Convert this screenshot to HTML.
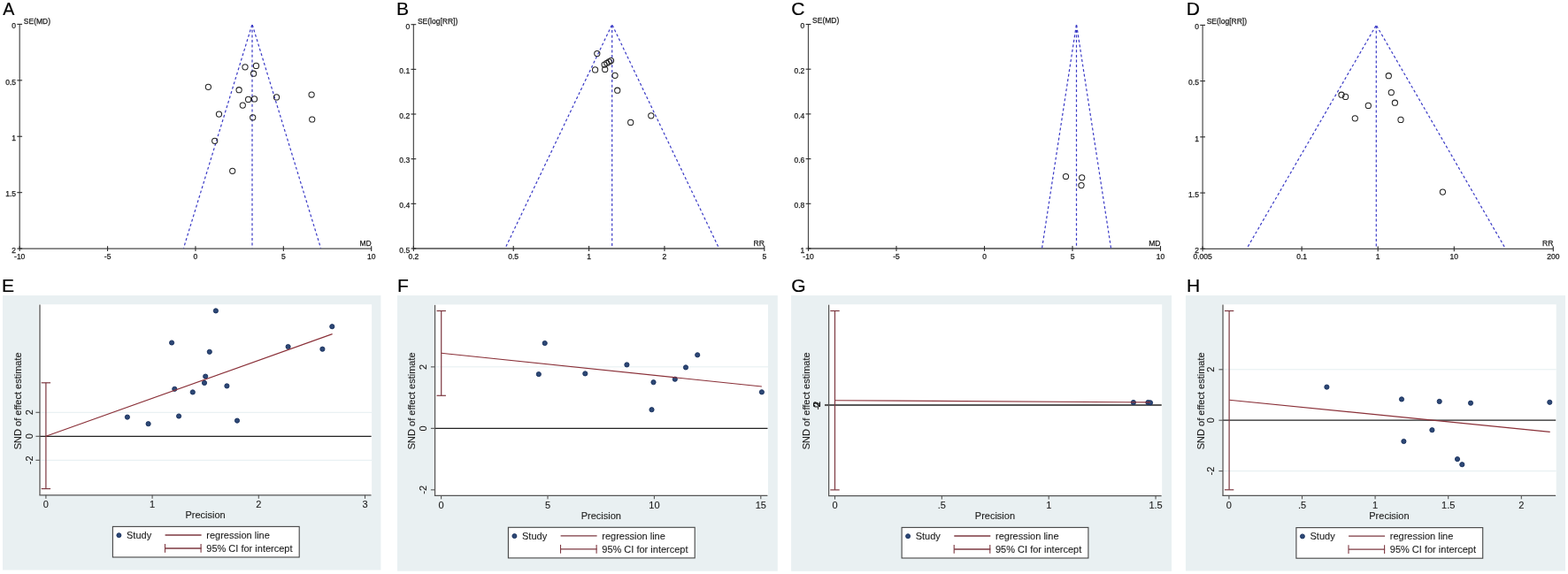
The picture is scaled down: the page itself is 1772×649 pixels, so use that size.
<!DOCTYPE html>
<html><head><meta charset="utf-8"><title>Funnel and Egger plots</title>
<style>html,body{margin:0;padding:0;background:#fff;width:1772px;height:649px;overflow:hidden}svg{display:block}</style>
</head><body>
<svg width="1772" height="649" viewBox="0 0 1772 649" font-family="Liberation Sans, Arial, sans-serif">
<text x="3.36" y="17.30" font-size="21" text-anchor="start" fill="#000" stroke="#000" stroke-width="0.2" textLength="13.1" lengthAdjust="spacingAndGlyphs">A</text>
<line x1="22.20" y1="27.40" x2="22.20" y2="281.60" stroke="#4a4a4a" stroke-width="1.2" />
<line x1="21.70" y1="281.10" x2="419.70" y2="281.10" stroke="#4a4a4a" stroke-width="1.3" />
<line x1="19.30" y1="27.40" x2="25.10" y2="27.40" stroke="#2a2a2a" stroke-width="1.1" />
<text x="18.00" y="32.20" font-size="8.5" text-anchor="end" fill="#1a1a1a" stroke="#1a1a1a" stroke-width="0.25" >0</text>
<line x1="19.30" y1="90.83" x2="25.10" y2="90.83" stroke="#2a2a2a" stroke-width="1.1" />
<text x="18.00" y="95.62" font-size="8.5" text-anchor="end" fill="#1a1a1a" stroke="#1a1a1a" stroke-width="0.25" >0.5</text>
<line x1="19.30" y1="154.25" x2="25.10" y2="154.25" stroke="#2a2a2a" stroke-width="1.1" />
<text x="18.00" y="159.05" font-size="8.5" text-anchor="end" fill="#1a1a1a" stroke="#1a1a1a" stroke-width="0.25" >1</text>
<line x1="19.30" y1="217.68" x2="25.10" y2="217.68" stroke="#2a2a2a" stroke-width="1.1" />
<text x="18.00" y="222.48" font-size="8.5" text-anchor="end" fill="#1a1a1a" stroke="#1a1a1a" stroke-width="0.25" >1.5</text>
<line x1="19.30" y1="281.10" x2="25.10" y2="281.10" stroke="#2a2a2a" stroke-width="1.1" />
<text x="18.00" y="285.90" font-size="8.5" text-anchor="end" fill="#1a1a1a" stroke="#1a1a1a" stroke-width="0.25" >2</text>
<line x1="22.20" y1="278.20" x2="22.20" y2="284.00" stroke="#2a2a2a" stroke-width="1.1" />
<text x="22.20" y="293.10" font-size="8.5" text-anchor="middle" fill="#1a1a1a" stroke="#1a1a1a" stroke-width="0.25" >-10</text>
<line x1="121.58" y1="278.20" x2="121.58" y2="284.00" stroke="#2a2a2a" stroke-width="1.1" />
<text x="121.58" y="293.10" font-size="8.5" text-anchor="middle" fill="#1a1a1a" stroke="#1a1a1a" stroke-width="0.25" >-5</text>
<line x1="220.95" y1="278.20" x2="220.95" y2="284.00" stroke="#2a2a2a" stroke-width="1.1" />
<text x="220.95" y="293.10" font-size="8.5" text-anchor="middle" fill="#1a1a1a" stroke="#1a1a1a" stroke-width="0.25" >0</text>
<line x1="320.32" y1="278.20" x2="320.32" y2="284.00" stroke="#2a2a2a" stroke-width="1.1" />
<text x="320.32" y="293.10" font-size="8.5" text-anchor="middle" fill="#1a1a1a" stroke="#1a1a1a" stroke-width="0.25" >5</text>
<line x1="419.70" y1="278.20" x2="419.70" y2="284.00" stroke="#2a2a2a" stroke-width="1.1" />
<text x="419.70" y="293.10" font-size="8.5" text-anchor="middle" fill="#1a1a1a" stroke="#1a1a1a" stroke-width="0.25" >10</text>
<text x="26.80" y="26.60" font-size="8.5" text-anchor="start" fill="#1a1a1a" stroke="#1a1a1a" stroke-width="0.25" >SE(MD)</text>
<text x="419.70" y="278.00" font-size="8.5" text-anchor="end" fill="#1a1a1a" stroke="#1a1a1a" stroke-width="0.25" >MD</text>
<line x1="285.00" y1="27.40" x2="207.50" y2="280.50" stroke="#3a3ac6" stroke-width="1.2" stroke-dasharray="3 2.6" stroke-dashoffset="-0.8"/>
<line x1="285.00" y1="27.40" x2="362.50" y2="280.50" stroke="#3a3ac6" stroke-width="1.2" stroke-dasharray="3 2.6" stroke-dashoffset="-0.8"/>
<line x1="285.00" y1="27.40" x2="285.00" y2="280.50" stroke="#3a3ac6" stroke-width="1.2" stroke-dasharray="3 2.6" stroke-dashoffset="-0.8"/>
<circle cx="277.00" cy="75.80" r="3.1" fill="none" stroke="#222" stroke-width="1.05"/>
<circle cx="289.50" cy="74.40" r="3.1" fill="none" stroke="#222" stroke-width="1.05"/>
<circle cx="286.60" cy="83.20" r="3.1" fill="none" stroke="#222" stroke-width="1.05"/>
<circle cx="235.40" cy="98.30" r="3.1" fill="none" stroke="#222" stroke-width="1.05"/>
<circle cx="270.10" cy="101.70" r="3.1" fill="none" stroke="#222" stroke-width="1.05"/>
<circle cx="312.50" cy="109.90" r="3.1" fill="none" stroke="#222" stroke-width="1.05"/>
<circle cx="352.10" cy="107.00" r="3.1" fill="none" stroke="#222" stroke-width="1.05"/>
<circle cx="280.60" cy="112.40" r="3.1" fill="none" stroke="#222" stroke-width="1.05"/>
<circle cx="287.50" cy="111.90" r="3.1" fill="none" stroke="#222" stroke-width="1.05"/>
<circle cx="274.30" cy="119.10" r="3.1" fill="none" stroke="#222" stroke-width="1.05"/>
<circle cx="247.50" cy="129.10" r="3.1" fill="none" stroke="#222" stroke-width="1.05"/>
<circle cx="285.70" cy="132.80" r="3.1" fill="none" stroke="#222" stroke-width="1.05"/>
<circle cx="352.70" cy="135.00" r="3.1" fill="none" stroke="#222" stroke-width="1.05"/>
<circle cx="242.70" cy="159.30" r="3.1" fill="none" stroke="#222" stroke-width="1.05"/>
<circle cx="262.70" cy="193.30" r="3.1" fill="none" stroke="#222" stroke-width="1.05"/>
<text x="447.98" y="17.30" font-size="21" text-anchor="start" fill="#000" stroke="#000" stroke-width="0.2" >B</text>
<line x1="467.35" y1="27.70" x2="467.35" y2="281.50" stroke="#4a4a4a" stroke-width="1.2" />
<line x1="466.85" y1="281.00" x2="863.80" y2="281.00" stroke="#4a4a4a" stroke-width="1.3" />
<line x1="464.45" y1="27.70" x2="470.25" y2="27.70" stroke="#2a2a2a" stroke-width="1.1" />
<text x="463.15" y="32.50" font-size="8.5" text-anchor="end" fill="#1a1a1a" stroke="#1a1a1a" stroke-width="0.25" >0</text>
<line x1="464.45" y1="78.36" x2="470.25" y2="78.36" stroke="#2a2a2a" stroke-width="1.1" />
<text x="463.15" y="83.16" font-size="8.5" text-anchor="end" fill="#1a1a1a" stroke="#1a1a1a" stroke-width="0.25" >0.1</text>
<line x1="464.45" y1="129.02" x2="470.25" y2="129.02" stroke="#2a2a2a" stroke-width="1.1" />
<text x="463.15" y="133.82" font-size="8.5" text-anchor="end" fill="#1a1a1a" stroke="#1a1a1a" stroke-width="0.25" >0.2</text>
<line x1="464.45" y1="179.68" x2="470.25" y2="179.68" stroke="#2a2a2a" stroke-width="1.1" />
<text x="463.15" y="184.48" font-size="8.5" text-anchor="end" fill="#1a1a1a" stroke="#1a1a1a" stroke-width="0.25" >0.3</text>
<line x1="464.45" y1="230.34" x2="470.25" y2="230.34" stroke="#2a2a2a" stroke-width="1.1" />
<text x="463.15" y="235.14" font-size="8.5" text-anchor="end" fill="#1a1a1a" stroke="#1a1a1a" stroke-width="0.25" >0.4</text>
<line x1="464.45" y1="281.00" x2="470.25" y2="281.00" stroke="#2a2a2a" stroke-width="1.1" />
<text x="463.15" y="285.80" font-size="8.5" text-anchor="end" fill="#1a1a1a" stroke="#1a1a1a" stroke-width="0.25" >0.5</text>
<line x1="467.35" y1="278.10" x2="467.35" y2="283.90" stroke="#2a2a2a" stroke-width="1.1" />
<text x="467.35" y="293.00" font-size="8.5" text-anchor="middle" fill="#1a1a1a" stroke="#1a1a1a" stroke-width="0.25" >0.2</text>
<line x1="580.20" y1="278.10" x2="580.20" y2="283.90" stroke="#2a2a2a" stroke-width="1.1" />
<text x="580.20" y="293.00" font-size="8.5" text-anchor="middle" fill="#1a1a1a" stroke="#1a1a1a" stroke-width="0.25" >0.5</text>
<line x1="665.58" y1="278.10" x2="665.58" y2="283.90" stroke="#2a2a2a" stroke-width="1.1" />
<text x="665.58" y="293.00" font-size="8.5" text-anchor="middle" fill="#1a1a1a" stroke="#1a1a1a" stroke-width="0.25" >1</text>
<line x1="750.95" y1="278.10" x2="750.95" y2="283.90" stroke="#2a2a2a" stroke-width="1.1" />
<text x="750.95" y="293.00" font-size="8.5" text-anchor="middle" fill="#1a1a1a" stroke="#1a1a1a" stroke-width="0.25" >2</text>
<line x1="863.80" y1="278.10" x2="863.80" y2="283.90" stroke="#2a2a2a" stroke-width="1.1" />
<text x="863.80" y="293.00" font-size="8.5" text-anchor="middle" fill="#1a1a1a" stroke="#1a1a1a" stroke-width="0.25" >5</text>
<text x="471.95" y="26.50" font-size="8.5" text-anchor="start" fill="#1a1a1a" stroke="#1a1a1a" stroke-width="0.25" >SE(log[RR])</text>
<text x="863.80" y="277.90" font-size="8.5" text-anchor="end" fill="#1a1a1a" stroke="#1a1a1a" stroke-width="0.25" >RR</text>
<line x1="691.70" y1="27.70" x2="571.10" y2="280.40" stroke="#3a3ac6" stroke-width="1.2" stroke-dasharray="3 2.6" stroke-dashoffset="-0.8"/>
<line x1="691.70" y1="27.70" x2="812.40" y2="280.40" stroke="#3a3ac6" stroke-width="1.2" stroke-dasharray="3 2.6" stroke-dashoffset="-0.8"/>
<line x1="691.70" y1="27.70" x2="691.70" y2="280.40" stroke="#3a3ac6" stroke-width="1.2" stroke-dasharray="3 2.6" stroke-dashoffset="-0.8"/>
<circle cx="674.80" cy="60.60" r="3.1" fill="none" stroke="#222" stroke-width="1.05"/>
<circle cx="683.10" cy="73.10" r="3.1" fill="none" stroke="#222" stroke-width="1.05"/>
<circle cx="685.80" cy="71.30" r="3.1" fill="none" stroke="#222" stroke-width="1.05"/>
<circle cx="688.20" cy="69.90" r="3.1" fill="none" stroke="#222" stroke-width="1.05"/>
<circle cx="690.50" cy="68.60" r="3.1" fill="none" stroke="#222" stroke-width="1.05"/>
<circle cx="672.60" cy="78.90" r="3.1" fill="none" stroke="#222" stroke-width="1.05"/>
<circle cx="683.70" cy="78.40" r="3.1" fill="none" stroke="#222" stroke-width="1.05"/>
<circle cx="695.00" cy="85.30" r="3.1" fill="none" stroke="#222" stroke-width="1.05"/>
<circle cx="697.70" cy="102.20" r="3.1" fill="none" stroke="#222" stroke-width="1.05"/>
<circle cx="735.80" cy="130.80" r="3.1" fill="none" stroke="#222" stroke-width="1.05"/>
<circle cx="712.70" cy="138.40" r="3.1" fill="none" stroke="#222" stroke-width="1.05"/>
<text x="894.33" y="17.30" font-size="21" text-anchor="start" fill="#000" stroke="#000" stroke-width="0.2" >C</text>
<line x1="913.50" y1="27.50" x2="913.50" y2="281.50" stroke="#4a4a4a" stroke-width="1.2" />
<line x1="913.00" y1="281.00" x2="1311.50" y2="281.00" stroke="#4a4a4a" stroke-width="1.3" />
<line x1="910.60" y1="27.50" x2="916.40" y2="27.50" stroke="#2a2a2a" stroke-width="1.1" />
<text x="909.30" y="32.30" font-size="8.5" text-anchor="end" fill="#1a1a1a" stroke="#1a1a1a" stroke-width="0.25" >0</text>
<line x1="910.60" y1="78.20" x2="916.40" y2="78.20" stroke="#2a2a2a" stroke-width="1.1" />
<text x="909.30" y="83.00" font-size="8.5" text-anchor="end" fill="#1a1a1a" stroke="#1a1a1a" stroke-width="0.25" >0.2</text>
<line x1="910.60" y1="128.90" x2="916.40" y2="128.90" stroke="#2a2a2a" stroke-width="1.1" />
<text x="909.30" y="133.70" font-size="8.5" text-anchor="end" fill="#1a1a1a" stroke="#1a1a1a" stroke-width="0.25" >0.4</text>
<line x1="910.60" y1="179.60" x2="916.40" y2="179.60" stroke="#2a2a2a" stroke-width="1.1" />
<text x="909.30" y="184.40" font-size="8.5" text-anchor="end" fill="#1a1a1a" stroke="#1a1a1a" stroke-width="0.25" >0.6</text>
<line x1="910.60" y1="230.30" x2="916.40" y2="230.30" stroke="#2a2a2a" stroke-width="1.1" />
<text x="909.30" y="235.10" font-size="8.5" text-anchor="end" fill="#1a1a1a" stroke="#1a1a1a" stroke-width="0.25" >0.8</text>
<line x1="910.60" y1="281.00" x2="916.40" y2="281.00" stroke="#2a2a2a" stroke-width="1.1" />
<text x="909.30" y="285.80" font-size="8.5" text-anchor="end" fill="#1a1a1a" stroke="#1a1a1a" stroke-width="0.25" >1</text>
<line x1="913.50" y1="278.10" x2="913.50" y2="283.90" stroke="#2a2a2a" stroke-width="1.1" />
<text x="913.50" y="293.00" font-size="8.5" text-anchor="middle" fill="#1a1a1a" stroke="#1a1a1a" stroke-width="0.25" >-10</text>
<line x1="1013.00" y1="278.10" x2="1013.00" y2="283.90" stroke="#2a2a2a" stroke-width="1.1" />
<text x="1013.00" y="293.00" font-size="8.5" text-anchor="middle" fill="#1a1a1a" stroke="#1a1a1a" stroke-width="0.25" >-5</text>
<line x1="1112.50" y1="278.10" x2="1112.50" y2="283.90" stroke="#2a2a2a" stroke-width="1.1" />
<text x="1112.50" y="293.00" font-size="8.5" text-anchor="middle" fill="#1a1a1a" stroke="#1a1a1a" stroke-width="0.25" >0</text>
<line x1="1212.00" y1="278.10" x2="1212.00" y2="283.90" stroke="#2a2a2a" stroke-width="1.1" />
<text x="1212.00" y="293.00" font-size="8.5" text-anchor="middle" fill="#1a1a1a" stroke="#1a1a1a" stroke-width="0.25" >5</text>
<line x1="1311.50" y1="278.10" x2="1311.50" y2="283.90" stroke="#2a2a2a" stroke-width="1.1" />
<text x="1311.50" y="293.00" font-size="8.5" text-anchor="middle" fill="#1a1a1a" stroke="#1a1a1a" stroke-width="0.25" >10</text>
<text x="918.10" y="26.40" font-size="8.5" text-anchor="start" fill="#1a1a1a" stroke="#1a1a1a" stroke-width="0.25" >SE(MD)</text>
<text x="1311.50" y="277.90" font-size="8.5" text-anchor="end" fill="#1a1a1a" stroke="#1a1a1a" stroke-width="0.25" >MD</text>
<line x1="1216.50" y1="27.50" x2="1177.60" y2="280.40" stroke="#3a3ac6" stroke-width="1.2" stroke-dasharray="3 2.6" stroke-dashoffset="-0.8"/>
<line x1="1216.50" y1="27.50" x2="1255.50" y2="280.40" stroke="#3a3ac6" stroke-width="1.2" stroke-dasharray="3 2.6" stroke-dashoffset="-0.8"/>
<line x1="1216.50" y1="27.50" x2="1216.50" y2="280.40" stroke="#3a3ac6" stroke-width="1.2" stroke-dasharray="3 2.6" stroke-dashoffset="-0.8"/>
<circle cx="1204.50" cy="199.50" r="3.1" fill="none" stroke="#222" stroke-width="1.05"/>
<circle cx="1222.70" cy="200.80" r="3.1" fill="none" stroke="#222" stroke-width="1.05"/>
<circle cx="1222.00" cy="209.60" r="3.1" fill="none" stroke="#222" stroke-width="1.05"/>
<text x="1340.78" y="17.30" font-size="21" text-anchor="start" fill="#000" stroke="#000" stroke-width="0.2" >D</text>
<line x1="1359.10" y1="28.40" x2="1359.10" y2="281.80" stroke="#4a4a4a" stroke-width="1.2" />
<line x1="1358.60" y1="281.30" x2="1755.30" y2="281.30" stroke="#4a4a4a" stroke-width="1.3" />
<line x1="1356.20" y1="28.40" x2="1362.00" y2="28.40" stroke="#2a2a2a" stroke-width="1.1" />
<text x="1354.90" y="33.20" font-size="8.5" text-anchor="end" fill="#1a1a1a" stroke="#1a1a1a" stroke-width="0.25" >0</text>
<line x1="1356.20" y1="91.62" x2="1362.00" y2="91.62" stroke="#2a2a2a" stroke-width="1.1" />
<text x="1354.90" y="96.42" font-size="8.5" text-anchor="end" fill="#1a1a1a" stroke="#1a1a1a" stroke-width="0.25" >0.5</text>
<line x1="1356.20" y1="154.85" x2="1362.00" y2="154.85" stroke="#2a2a2a" stroke-width="1.1" />
<text x="1354.90" y="159.65" font-size="8.5" text-anchor="end" fill="#1a1a1a" stroke="#1a1a1a" stroke-width="0.25" >1</text>
<line x1="1356.20" y1="218.08" x2="1362.00" y2="218.08" stroke="#2a2a2a" stroke-width="1.1" />
<text x="1354.90" y="222.88" font-size="8.5" text-anchor="end" fill="#1a1a1a" stroke="#1a1a1a" stroke-width="0.25" >1.5</text>
<line x1="1356.20" y1="281.30" x2="1362.00" y2="281.30" stroke="#2a2a2a" stroke-width="1.1" />
<text x="1354.90" y="286.10" font-size="8.5" text-anchor="end" fill="#1a1a1a" stroke="#1a1a1a" stroke-width="0.25" >2</text>
<line x1="1359.10" y1="278.40" x2="1359.10" y2="284.20" stroke="#2a2a2a" stroke-width="1.1" />
<text x="1359.10" y="293.30" font-size="8.5" text-anchor="middle" fill="#1a1a1a" stroke="#1a1a1a" stroke-width="0.25" >0.005</text>
<line x1="1471.11" y1="278.40" x2="1471.11" y2="284.20" stroke="#2a2a2a" stroke-width="1.1" />
<text x="1471.11" y="293.30" font-size="8.5" text-anchor="middle" fill="#1a1a1a" stroke="#1a1a1a" stroke-width="0.25" >0.1</text>
<line x1="1557.20" y1="278.40" x2="1557.20" y2="284.20" stroke="#2a2a2a" stroke-width="1.1" />
<text x="1557.20" y="293.30" font-size="8.5" text-anchor="middle" fill="#1a1a1a" stroke="#1a1a1a" stroke-width="0.25" >1</text>
<line x1="1643.29" y1="278.40" x2="1643.29" y2="284.20" stroke="#2a2a2a" stroke-width="1.1" />
<text x="1643.29" y="293.30" font-size="8.5" text-anchor="middle" fill="#1a1a1a" stroke="#1a1a1a" stroke-width="0.25" >10</text>
<line x1="1755.30" y1="278.40" x2="1755.30" y2="284.20" stroke="#2a2a2a" stroke-width="1.1" />
<text x="1755.30" y="293.30" font-size="8.5" text-anchor="middle" fill="#1a1a1a" stroke="#1a1a1a" stroke-width="0.25" >200</text>
<text x="1363.70" y="27.10" font-size="8.5" text-anchor="start" fill="#1a1a1a" stroke="#1a1a1a" stroke-width="0.25" >SE(log[RR])</text>
<text x="1755.30" y="278.20" font-size="8.5" text-anchor="end" fill="#1a1a1a" stroke="#1a1a1a" stroke-width="0.25" >RR</text>
<line x1="1555.30" y1="28.40" x2="1409.20" y2="280.70" stroke="#3a3ac6" stroke-width="1.2" stroke-dasharray="3 2.6" stroke-dashoffset="-0.8"/>
<line x1="1555.30" y1="28.40" x2="1701.10" y2="280.70" stroke="#3a3ac6" stroke-width="1.2" stroke-dasharray="3 2.6" stroke-dashoffset="-0.8"/>
<line x1="1555.30" y1="28.40" x2="1555.30" y2="280.70" stroke="#3a3ac6" stroke-width="1.2" stroke-dasharray="3 2.6" stroke-dashoffset="-0.8"/>
<circle cx="1569.30" cy="85.70" r="3.1" fill="none" stroke="#222" stroke-width="1.05"/>
<circle cx="1516.00" cy="107.20" r="3.1" fill="none" stroke="#222" stroke-width="1.05"/>
<circle cx="1520.60" cy="109.40" r="3.1" fill="none" stroke="#222" stroke-width="1.05"/>
<circle cx="1572.30" cy="104.60" r="3.1" fill="none" stroke="#222" stroke-width="1.05"/>
<circle cx="1546.30" cy="119.40" r="3.1" fill="none" stroke="#222" stroke-width="1.05"/>
<circle cx="1576.40" cy="116.20" r="3.1" fill="none" stroke="#222" stroke-width="1.05"/>
<circle cx="1531.30" cy="133.80" r="3.1" fill="none" stroke="#222" stroke-width="1.05"/>
<circle cx="1583.00" cy="135.40" r="3.1" fill="none" stroke="#222" stroke-width="1.05"/>
<circle cx="1630.40" cy="217.10" r="3.1" fill="none" stroke="#222" stroke-width="1.05"/>
<text x="1.98" y="329.70" font-size="21" text-anchor="start" fill="#000" stroke="#000" stroke-width="0.2" >E</text>
<rect x="3" y="334" width="427.40" height="310.50" fill="#e9f0f2"/>
<rect x="43.5" y="344.2" width="376.60" height="215.60" fill="#fff"/>
<line x1="45.00" y1="466.30" x2="420.10" y2="466.30" stroke="#e4eef0" stroke-width="1.0" />
<line x1="45.00" y1="520.30" x2="420.10" y2="520.30" stroke="#e4eef0" stroke-width="1.0" />
<line x1="45.00" y1="493.30" x2="419.60" y2="493.30" stroke="#222" stroke-width="1.3" />
<line x1="45.00" y1="344.60" x2="45.00" y2="559.80" stroke="#555" stroke-width="1.3" />
<line x1="44.40" y1="559.80" x2="419.50" y2="559.80" stroke="#555" stroke-width="1.3" />
<line x1="40.40" y1="466.30" x2="45.00" y2="466.30" stroke="#555" stroke-width="1.1" />
<text transform="translate(36.90,466.30) rotate(-90)" font-size="11.0" text-anchor="middle" fill="#1a1a1a" stroke="#1a1a1a" stroke-width="0.1">2</text>
<line x1="40.40" y1="493.30" x2="45.00" y2="493.30" stroke="#555" stroke-width="1.1" />
<text transform="translate(36.90,493.30) rotate(-90)" font-size="11.0" text-anchor="middle" fill="#1a1a1a" stroke="#1a1a1a" stroke-width="0.1">0</text>
<line x1="40.40" y1="520.30" x2="45.00" y2="520.30" stroke="#555" stroke-width="1.1" />
<text transform="translate(36.90,520.30) rotate(-90)" font-size="11.0" text-anchor="middle" fill="#1a1a1a" stroke="#1a1a1a" stroke-width="0.1">-2</text>
<line x1="51.90" y1="559.80" x2="51.90" y2="563.80" stroke="#555" stroke-width="1.1" />
<text x="51.90" y="574.10" font-size="11.0" text-anchor="middle" fill="#1a1a1a" stroke="#1a1a1a" stroke-width="0.1" >0</text>
<line x1="172.10" y1="559.80" x2="172.10" y2="563.80" stroke="#555" stroke-width="1.1" />
<text x="172.10" y="574.10" font-size="11.0" text-anchor="middle" fill="#1a1a1a" stroke="#1a1a1a" stroke-width="0.1" >1</text>
<line x1="292.30" y1="559.80" x2="292.30" y2="563.80" stroke="#555" stroke-width="1.1" />
<text x="292.30" y="574.10" font-size="11.0" text-anchor="middle" fill="#1a1a1a" stroke="#1a1a1a" stroke-width="0.1" >2</text>
<line x1="412.50" y1="559.80" x2="412.50" y2="563.80" stroke="#555" stroke-width="1.1" />
<text x="412.50" y="574.10" font-size="11.0" text-anchor="middle" fill="#1a1a1a" stroke="#1a1a1a" stroke-width="0.1" >3</text>
<text x="232.10" y="586.30" font-size="11.0" text-anchor="middle" fill="#1a1a1a" stroke="#1a1a1a" stroke-width="0.1" >Precision</text>
<text transform="translate(23.60,453.30) rotate(-90)" font-size="11.0" text-anchor="middle" fill="#1a1a1a" stroke="#1a1a1a" stroke-width="0.1">SND of effect estimate</text>
<line x1="51.90" y1="432.80" x2="51.90" y2="552.60" stroke="#7d3840" stroke-width="1.2" />
<line x1="46.70" y1="432.80" x2="57.10" y2="432.80" stroke="#7d3840" stroke-width="1.2" />
<line x1="46.70" y1="552.60" x2="57.10" y2="552.60" stroke="#7d3840" stroke-width="1.2" />
<circle cx="243.90" cy="351.40" r="2.6" fill="#2d4876" stroke="#18305c" stroke-width="0.9"/>
<circle cx="194.10" cy="387.50" r="2.6" fill="#2d4876" stroke="#18305c" stroke-width="0.9"/>
<circle cx="236.80" cy="397.80" r="2.6" fill="#2d4876" stroke="#18305c" stroke-width="0.9"/>
<circle cx="232.20" cy="425.60" r="2.6" fill="#2d4876" stroke="#18305c" stroke-width="0.9"/>
<circle cx="231.00" cy="432.90" r="2.6" fill="#2d4876" stroke="#18305c" stroke-width="0.9"/>
<circle cx="197.30" cy="439.80" r="2.6" fill="#2d4876" stroke="#18305c" stroke-width="0.9"/>
<circle cx="217.80" cy="443.40" r="2.6" fill="#2d4876" stroke="#18305c" stroke-width="0.9"/>
<circle cx="256.40" cy="436.40" r="2.6" fill="#2d4876" stroke="#18305c" stroke-width="0.9"/>
<circle cx="375.30" cy="369.20" r="2.6" fill="#2d4876" stroke="#18305c" stroke-width="0.9"/>
<circle cx="325.60" cy="392.00" r="2.6" fill="#2d4876" stroke="#18305c" stroke-width="0.9"/>
<circle cx="364.40" cy="394.70" r="2.6" fill="#2d4876" stroke="#18305c" stroke-width="0.9"/>
<circle cx="143.90" cy="471.60" r="2.6" fill="#2d4876" stroke="#18305c" stroke-width="0.9"/>
<circle cx="167.60" cy="479.20" r="2.6" fill="#2d4876" stroke="#18305c" stroke-width="0.9"/>
<circle cx="202.10" cy="470.50" r="2.6" fill="#2d4876" stroke="#18305c" stroke-width="0.9"/>
<circle cx="268.00" cy="475.60" r="2.6" fill="#2d4876" stroke="#18305c" stroke-width="0.9"/>
<line x1="51.90" y1="493.30" x2="375.60" y2="377.60" stroke="#8a3038" stroke-width="1.15" />
<rect x="127.40" y="595.40" width="210.8" height="34.6" fill="#fff" stroke="#454545" stroke-width="1.1"/>
<circle cx="134.40" cy="605.20" r="2.5" fill="#2d4876" stroke="#18305c" stroke-width="0.9"/>
<text x="143.00" y="608.90" font-size="11.0" text-anchor="start" fill="#1a1a1a" stroke="#1a1a1a" stroke-width="0.1" >Study</text>
<line x1="186.60" y1="605.00" x2="227.60" y2="605.00" stroke="#7d3840" stroke-width="1.3" />
<text x="233.30" y="608.90" font-size="11.0" text-anchor="start" fill="#1a1a1a" stroke="#1a1a1a" stroke-width="0.1" >regression line</text>
<line x1="186.50" y1="620.00" x2="227.60" y2="620.00" stroke="#7d3840" stroke-width="1.3" />
<line x1="186.50" y1="615.00" x2="186.50" y2="624.80" stroke="#7d3840" stroke-width="1.1" />
<line x1="227.10" y1="615.00" x2="227.10" y2="624.80" stroke="#7d3840" stroke-width="1.1" />
<text x="233.30" y="624.00" font-size="11.0" text-anchor="start" fill="#1a1a1a" stroke="#1a1a1a" stroke-width="0.1" >95% CI for intercept</text>
<text x="449.08" y="329.70" font-size="21" text-anchor="start" fill="#000" stroke="#000" stroke-width="0.2" >F</text>
<rect x="449" y="334" width="429.80" height="311.70" fill="#e9f0f2"/>
<rect x="490.2" y="344.4" width="377.80" height="215.90" fill="#fff"/>
<line x1="491.50" y1="414.85" x2="868.00" y2="414.85" stroke="#e4eef0" stroke-width="1.0" />
<line x1="491.50" y1="484.35" x2="867.50" y2="484.35" stroke="#222" stroke-width="1.3" />
<line x1="491.50" y1="344.80" x2="491.50" y2="560.30" stroke="#555" stroke-width="1.3" />
<line x1="490.90" y1="560.30" x2="867.40" y2="560.30" stroke="#555" stroke-width="1.3" />
<line x1="486.90" y1="414.85" x2="491.50" y2="414.85" stroke="#555" stroke-width="1.1" />
<text transform="translate(482.40,414.85) rotate(-90)" font-size="11.0" text-anchor="middle" fill="#1a1a1a" stroke="#1a1a1a" stroke-width="0.1">2</text>
<line x1="486.90" y1="484.35" x2="491.50" y2="484.35" stroke="#555" stroke-width="1.1" />
<text transform="translate(482.40,484.35) rotate(-90)" font-size="11.0" text-anchor="middle" fill="#1a1a1a" stroke="#1a1a1a" stroke-width="0.1">0</text>
<line x1="486.90" y1="553.85" x2="491.50" y2="553.85" stroke="#555" stroke-width="1.1" />
<text transform="translate(482.40,553.85) rotate(-90)" font-size="11.0" text-anchor="middle" fill="#1a1a1a" stroke="#1a1a1a" stroke-width="0.1">-2</text>
<line x1="498.60" y1="560.30" x2="498.60" y2="564.30" stroke="#555" stroke-width="1.1" />
<text x="498.60" y="574.60" font-size="11.0" text-anchor="middle" fill="#1a1a1a" stroke="#1a1a1a" stroke-width="0.1" >0</text>
<line x1="619.00" y1="560.30" x2="619.00" y2="564.30" stroke="#555" stroke-width="1.1" />
<text x="619.00" y="574.60" font-size="11.0" text-anchor="middle" fill="#1a1a1a" stroke="#1a1a1a" stroke-width="0.1" >5</text>
<line x1="739.40" y1="560.30" x2="739.40" y2="564.30" stroke="#555" stroke-width="1.1" />
<text x="739.40" y="574.60" font-size="11.0" text-anchor="middle" fill="#1a1a1a" stroke="#1a1a1a" stroke-width="0.1" >10</text>
<line x1="859.80" y1="560.30" x2="859.80" y2="564.30" stroke="#555" stroke-width="1.1" />
<text x="859.80" y="574.60" font-size="11.0" text-anchor="middle" fill="#1a1a1a" stroke="#1a1a1a" stroke-width="0.1" >15</text>
<text x="679.30" y="586.80" font-size="11.0" text-anchor="middle" fill="#1a1a1a" stroke="#1a1a1a" stroke-width="0.1" >Precision</text>
<text transform="translate(469.30,453.30) rotate(-90)" font-size="11.0" text-anchor="middle" fill="#1a1a1a" stroke="#1a1a1a" stroke-width="0.1">SND of effect estimate</text>
<line x1="498.70" y1="351.50" x2="498.70" y2="447.30" stroke="#7d3840" stroke-width="1.2" />
<line x1="493.50" y1="351.50" x2="503.90" y2="351.50" stroke="#7d3840" stroke-width="1.2" />
<line x1="493.50" y1="447.30" x2="503.90" y2="447.30" stroke="#7d3840" stroke-width="1.2" />
<circle cx="615.70" cy="388.00" r="2.6" fill="#2d4876" stroke="#18305c" stroke-width="0.9"/>
<circle cx="608.80" cy="423.10" r="2.6" fill="#2d4876" stroke="#18305c" stroke-width="0.9"/>
<circle cx="661.30" cy="422.40" r="2.6" fill="#2d4876" stroke="#18305c" stroke-width="0.9"/>
<circle cx="708.40" cy="412.40" r="2.6" fill="#2d4876" stroke="#18305c" stroke-width="0.9"/>
<circle cx="738.50" cy="432.20" r="2.6" fill="#2d4876" stroke="#18305c" stroke-width="0.9"/>
<circle cx="736.50" cy="463.20" r="2.6" fill="#2d4876" stroke="#18305c" stroke-width="0.9"/>
<circle cx="762.80" cy="428.70" r="2.6" fill="#2d4876" stroke="#18305c" stroke-width="0.9"/>
<circle cx="775.00" cy="415.40" r="2.6" fill="#2d4876" stroke="#18305c" stroke-width="0.9"/>
<circle cx="788.20" cy="401.30" r="2.6" fill="#2d4876" stroke="#18305c" stroke-width="0.9"/>
<circle cx="860.90" cy="443.30" r="2.6" fill="#2d4876" stroke="#18305c" stroke-width="0.9"/>
<line x1="498.70" y1="399.30" x2="860.90" y2="437.00" stroke="#8a3038" stroke-width="1.15" />
<rect x="574.40" y="596.30" width="210.8" height="34.6" fill="#fff" stroke="#454545" stroke-width="1.1"/>
<circle cx="581.40" cy="606.10" r="2.5" fill="#2d4876" stroke="#18305c" stroke-width="0.9"/>
<text x="590.00" y="609.80" font-size="11.0" text-anchor="start" fill="#1a1a1a" stroke="#1a1a1a" stroke-width="0.1" >Study</text>
<line x1="633.60" y1="605.90" x2="674.60" y2="605.90" stroke="#7d3840" stroke-width="1.3" />
<text x="680.30" y="609.80" font-size="11.0" text-anchor="start" fill="#1a1a1a" stroke="#1a1a1a" stroke-width="0.1" >regression line</text>
<line x1="633.50" y1="620.90" x2="674.60" y2="620.90" stroke="#7d3840" stroke-width="1.3" />
<line x1="633.50" y1="615.90" x2="633.50" y2="625.70" stroke="#7d3840" stroke-width="1.1" />
<line x1="674.10" y1="615.90" x2="674.10" y2="625.70" stroke="#7d3840" stroke-width="1.1" />
<text x="680.30" y="624.90" font-size="11.0" text-anchor="start" fill="#1a1a1a" stroke="#1a1a1a" stroke-width="0.1" >95% CI for intercept</text>
<text x="894.34" y="329.70" font-size="21" text-anchor="start" fill="#000" stroke="#000" stroke-width="0.2" >G</text>
<rect x="894.1" y="334" width="429.90" height="311.80" fill="#e9f0f2"/>
<rect x="935.5" y="344.2" width="377.70" height="216.40" fill="#fff"/>
<line x1="936.60" y1="458.00" x2="1312.70" y2="458.00" stroke="#222" stroke-width="1.3" />
<line x1="936.60" y1="344.60" x2="936.60" y2="560.60" stroke="#555" stroke-width="1.3" />
<line x1="936.00" y1="560.60" x2="1312.60" y2="560.60" stroke="#555" stroke-width="1.3" />
<line x1="932.00" y1="457.50" x2="936.60" y2="457.50" stroke="#555" stroke-width="1.1" />
<text transform="translate(926.80,457.50) rotate(-90)" font-size="11.0" text-anchor="middle" fill="#1a1a1a" stroke="#1a1a1a" stroke-width="0.1">2</text>
<line x1="932.00" y1="458.00" x2="936.60" y2="458.00" stroke="#555" stroke-width="1.1" />
<text transform="translate(926.80,458.00) rotate(-90)" font-size="11.0" text-anchor="middle" fill="#1a1a1a" stroke="#1a1a1a" stroke-width="0.1">0</text>
<line x1="932.00" y1="458.50" x2="936.60" y2="458.50" stroke="#555" stroke-width="1.1" />
<text transform="translate(926.80,458.50) rotate(-90)" font-size="11.0" text-anchor="middle" fill="#1a1a1a" stroke="#1a1a1a" stroke-width="0.1">-2</text>
<line x1="943.50" y1="560.60" x2="943.50" y2="564.60" stroke="#555" stroke-width="1.1" />
<text x="943.50" y="574.90" font-size="11.0" text-anchor="middle" fill="#1a1a1a" stroke="#1a1a1a" stroke-width="0.1" >0</text>
<line x1="1064.35" y1="560.60" x2="1064.35" y2="564.60" stroke="#555" stroke-width="1.1" />
<text x="1064.35" y="574.90" font-size="11.0" text-anchor="middle" fill="#1a1a1a" stroke="#1a1a1a" stroke-width="0.1" >.5</text>
<line x1="1185.20" y1="560.60" x2="1185.20" y2="564.60" stroke="#555" stroke-width="1.1" />
<text x="1185.20" y="574.90" font-size="11.0" text-anchor="middle" fill="#1a1a1a" stroke="#1a1a1a" stroke-width="0.1" >1</text>
<line x1="1306.05" y1="560.60" x2="1306.05" y2="564.60" stroke="#555" stroke-width="1.1" />
<text x="1306.05" y="574.90" font-size="11.0" text-anchor="middle" fill="#1a1a1a" stroke="#1a1a1a" stroke-width="0.1" >1.5</text>
<text x="1124.45" y="587.10" font-size="11.0" text-anchor="middle" fill="#1a1a1a" stroke="#1a1a1a" stroke-width="0.1" >Precision</text>
<text transform="translate(914.60,453.30) rotate(-90)" font-size="11.0" text-anchor="middle" fill="#1a1a1a" stroke="#1a1a1a" stroke-width="0.1">SND of effect estimate</text>
<line x1="943.50" y1="351.50" x2="943.50" y2="553.90" stroke="#7d3840" stroke-width="1.2" />
<line x1="938.30" y1="351.50" x2="948.70" y2="351.50" stroke="#7d3840" stroke-width="1.2" />
<line x1="938.30" y1="553.90" x2="948.70" y2="553.90" stroke="#7d3840" stroke-width="1.2" />
<circle cx="1280.90" cy="455.00" r="2.6" fill="#2d4876" stroke="#18305c" stroke-width="0.9"/>
<circle cx="1297.40" cy="455.00" r="2.6" fill="#2d4876" stroke="#18305c" stroke-width="0.9"/>
<circle cx="1300.00" cy="455.30" r="2.6" fill="#2d4876" stroke="#18305c" stroke-width="0.9"/>
<line x1="943.50" y1="452.70" x2="1300.00" y2="454.90" stroke="#8a3038" stroke-width="1.15" />
<rect x="1019.10" y="596.40" width="210.8" height="34.6" fill="#fff" stroke="#454545" stroke-width="1.1"/>
<circle cx="1026.10" cy="606.20" r="2.5" fill="#2d4876" stroke="#18305c" stroke-width="0.9"/>
<text x="1034.70" y="609.90" font-size="11.0" text-anchor="start" fill="#1a1a1a" stroke="#1a1a1a" stroke-width="0.1" >Study</text>
<line x1="1078.30" y1="606.00" x2="1119.30" y2="606.00" stroke="#7d3840" stroke-width="1.3" />
<text x="1125.00" y="609.90" font-size="11.0" text-anchor="start" fill="#1a1a1a" stroke="#1a1a1a" stroke-width="0.1" >regression line</text>
<line x1="1078.20" y1="621.00" x2="1119.30" y2="621.00" stroke="#7d3840" stroke-width="1.3" />
<line x1="1078.20" y1="616.00" x2="1078.20" y2="625.80" stroke="#7d3840" stroke-width="1.1" />
<line x1="1118.80" y1="616.00" x2="1118.80" y2="625.80" stroke="#7d3840" stroke-width="1.1" />
<text x="1125.00" y="625.00" font-size="11.0" text-anchor="start" fill="#1a1a1a" stroke="#1a1a1a" stroke-width="0.1" >95% CI for intercept</text>
<text x="1340.88" y="329.70" font-size="21" text-anchor="start" fill="#000" stroke="#000" stroke-width="0.2" >H</text>
<rect x="1339.9" y="334" width="429.10" height="311.50" fill="#e9f0f2"/>
<rect x="1380.8" y="344.2" width="377.90" height="216.10" fill="#fff"/>
<line x1="1382.00" y1="417.80" x2="1758.70" y2="417.80" stroke="#e4eef0" stroke-width="1.0" />
<line x1="1382.00" y1="532.60" x2="1758.70" y2="532.60" stroke="#e4eef0" stroke-width="1.0" />
<line x1="1382.00" y1="475.20" x2="1758.20" y2="475.20" stroke="#222" stroke-width="1.3" />
<line x1="1382.00" y1="344.60" x2="1382.00" y2="560.30" stroke="#555" stroke-width="1.3" />
<line x1="1381.40" y1="560.30" x2="1758.10" y2="560.30" stroke="#555" stroke-width="1.3" />
<line x1="1377.40" y1="417.80" x2="1382.00" y2="417.80" stroke="#555" stroke-width="1.1" />
<text transform="translate(1371.70,417.80) rotate(-90)" font-size="11.0" text-anchor="middle" fill="#1a1a1a" stroke="#1a1a1a" stroke-width="0.1">2</text>
<line x1="1377.40" y1="475.20" x2="1382.00" y2="475.20" stroke="#555" stroke-width="1.1" />
<text transform="translate(1371.70,475.20) rotate(-90)" font-size="11.0" text-anchor="middle" fill="#1a1a1a" stroke="#1a1a1a" stroke-width="0.1">0</text>
<line x1="1377.40" y1="532.60" x2="1382.00" y2="532.60" stroke="#555" stroke-width="1.1" />
<text transform="translate(1371.70,532.60) rotate(-90)" font-size="11.0" text-anchor="middle" fill="#1a1a1a" stroke="#1a1a1a" stroke-width="0.1">-2</text>
<line x1="1388.90" y1="560.30" x2="1388.90" y2="564.30" stroke="#555" stroke-width="1.1" />
<text x="1388.90" y="574.60" font-size="11.0" text-anchor="middle" fill="#1a1a1a" stroke="#1a1a1a" stroke-width="0.1" >0</text>
<line x1="1471.50" y1="560.30" x2="1471.50" y2="564.30" stroke="#555" stroke-width="1.1" />
<text x="1471.50" y="574.60" font-size="11.0" text-anchor="middle" fill="#1a1a1a" stroke="#1a1a1a" stroke-width="0.1" >.5</text>
<line x1="1554.10" y1="560.30" x2="1554.10" y2="564.30" stroke="#555" stroke-width="1.1" />
<text x="1554.10" y="574.60" font-size="11.0" text-anchor="middle" fill="#1a1a1a" stroke="#1a1a1a" stroke-width="0.1" >1</text>
<line x1="1636.70" y1="560.30" x2="1636.70" y2="564.30" stroke="#555" stroke-width="1.1" />
<text x="1636.70" y="574.60" font-size="11.0" text-anchor="middle" fill="#1a1a1a" stroke="#1a1a1a" stroke-width="0.1" >1.5</text>
<line x1="1719.30" y1="560.30" x2="1719.30" y2="564.30" stroke="#555" stroke-width="1.1" />
<text x="1719.30" y="574.60" font-size="11.0" text-anchor="middle" fill="#1a1a1a" stroke="#1a1a1a" stroke-width="0.1" >2</text>
<text x="1569.90" y="586.80" font-size="11.0" text-anchor="middle" fill="#1a1a1a" stroke="#1a1a1a" stroke-width="0.1" >Precision</text>
<text transform="translate(1360.70,453.30) rotate(-90)" font-size="11.0" text-anchor="middle" fill="#1a1a1a" stroke="#1a1a1a" stroke-width="0.1">SND of effect estimate</text>
<line x1="1389.10" y1="351.50" x2="1389.10" y2="553.80" stroke="#7d3840" stroke-width="1.2" />
<line x1="1383.90" y1="351.50" x2="1394.30" y2="351.50" stroke="#7d3840" stroke-width="1.2" />
<line x1="1383.90" y1="553.80" x2="1394.30" y2="553.80" stroke="#7d3840" stroke-width="1.2" />
<circle cx="1499.40" cy="437.60" r="2.6" fill="#2d4876" stroke="#18305c" stroke-width="0.9"/>
<circle cx="1584.00" cy="451.40" r="2.6" fill="#2d4876" stroke="#18305c" stroke-width="0.9"/>
<circle cx="1626.70" cy="453.90" r="2.6" fill="#2d4876" stroke="#18305c" stroke-width="0.9"/>
<circle cx="1618.40" cy="486.20" r="2.6" fill="#2d4876" stroke="#18305c" stroke-width="0.9"/>
<circle cx="1586.40" cy="499.00" r="2.6" fill="#2d4876" stroke="#18305c" stroke-width="0.9"/>
<circle cx="1662.00" cy="455.70" r="2.6" fill="#2d4876" stroke="#18305c" stroke-width="0.9"/>
<circle cx="1751.30" cy="454.80" r="2.6" fill="#2d4876" stroke="#18305c" stroke-width="0.9"/>
<circle cx="1647.00" cy="519.10" r="2.6" fill="#2d4876" stroke="#18305c" stroke-width="0.9"/>
<circle cx="1652.30" cy="525.20" r="2.6" fill="#2d4876" stroke="#18305c" stroke-width="0.9"/>
<line x1="1389.10" y1="452.20" x2="1751.70" y2="488.40" stroke="#8a3038" stroke-width="1.15" />
<rect x="1464.90" y="596.60" width="210.8" height="34.6" fill="#fff" stroke="#454545" stroke-width="1.1"/>
<circle cx="1471.90" cy="606.40" r="2.5" fill="#2d4876" stroke="#18305c" stroke-width="0.9"/>
<text x="1480.50" y="610.10" font-size="11.0" text-anchor="start" fill="#1a1a1a" stroke="#1a1a1a" stroke-width="0.1" >Study</text>
<line x1="1524.10" y1="606.20" x2="1565.10" y2="606.20" stroke="#7d3840" stroke-width="1.3" />
<text x="1570.80" y="610.10" font-size="11.0" text-anchor="start" fill="#1a1a1a" stroke="#1a1a1a" stroke-width="0.1" >regression line</text>
<line x1="1524.00" y1="621.20" x2="1565.10" y2="621.20" stroke="#7d3840" stroke-width="1.3" />
<line x1="1524.00" y1="616.20" x2="1524.00" y2="626.00" stroke="#7d3840" stroke-width="1.1" />
<line x1="1564.60" y1="616.20" x2="1564.60" y2="626.00" stroke="#7d3840" stroke-width="1.1" />
<text x="1570.80" y="625.20" font-size="11.0" text-anchor="start" fill="#1a1a1a" stroke="#1a1a1a" stroke-width="0.1" >95% CI for intercept</text>
</svg>
</body></html>
